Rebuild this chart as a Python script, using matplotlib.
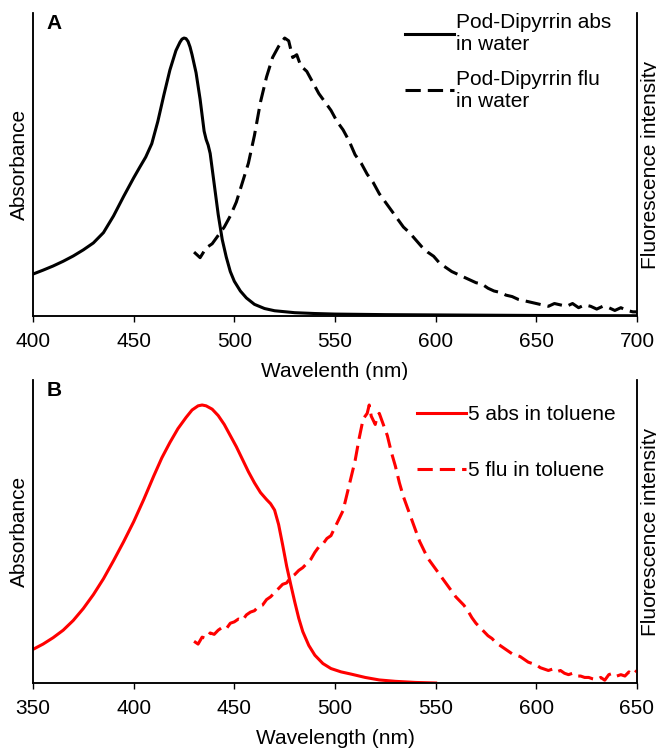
import matplotlib
matplotlib.use("Agg")
import matplotlib.pyplot as plt

plt.rcParams["font.family"] = ["Liberation Sans", "DejaVu Sans"]
plt.rcParams["font.size"] = 15

# Panel A: Pod-Dipyrrin in water (normalised)
abs_a_wl = [400, 405, 410, 415, 420, 425, 430, 435, 440, 445, 450, 453, 456, 459,
            462, 465, 468, 471, 473, 474, 475, 476, 477, 478, 479, 481, 483, 485,
            486, 487, 488, 490, 492, 494, 496, 498, 500, 503, 506, 510, 515, 520,
            530, 540, 550, 575, 600, 650, 700]
abs_a = [0.151, 0.165, 0.18, 0.197, 0.216, 0.238, 0.263, 0.30, 0.36, 0.43, 0.497,
         0.535, 0.572, 0.62, 0.70, 0.795, 0.885, 0.955, 0.985, 0.996, 1.0, 0.998,
         0.988, 0.968, 0.94, 0.875, 0.78, 0.665, 0.635, 0.615, 0.585, 0.475,
         0.365, 0.275, 0.212, 0.16, 0.125, 0.09, 0.065, 0.042, 0.027, 0.019,
         0.012, 0.009, 0.007, 0.005, 0.004, 0.002, 0.001]

flu_a_wl = [480, 483, 486, 489, 492, 495, 498, 501, 504, 507, 510, 513, 516, 519,
            522, 525, 527, 529, 531, 533, 536, 539, 542, 545, 548, 551, 554, 557,
            560, 563, 566, 569, 572, 575, 578, 581, 584, 587, 590, 593, 596, 599,
            602, 605, 608, 611, 614, 617, 620, 623, 626, 629, 632, 635, 638, 641,
            644, 647, 650, 653, 656, 659, 662, 665, 668, 671, 674, 677, 680, 683,
            686, 689, 692, 695, 698, 700]
flu_a = [0.23, 0.21, 0.245, 0.26, 0.29, 0.32, 0.36, 0.41, 0.48, 0.55, 0.65, 0.77,
         0.86, 0.93, 0.97, 1.0, 0.99, 0.93, 0.94, 0.90, 0.88, 0.84, 0.80, 0.77,
         0.74, 0.70, 0.67, 0.63, 0.58, 0.55, 0.51, 0.48, 0.44, 0.41, 0.38, 0.35,
         0.32, 0.30, 0.275, 0.25, 0.23, 0.215, 0.19, 0.175, 0.16, 0.15, 0.14,
         0.13, 0.12, 0.115, 0.10, 0.09, 0.085, 0.075, 0.07, 0.06, 0.055, 0.05,
         0.045, 0.04, 0.035, 0.045, 0.04, 0.035, 0.045, 0.03, 0.04, 0.035, 0.025,
         0.035, 0.03, 0.02, 0.03, 0.02, 0.015, 0.015]

# Panel B: compound 5 in toluene
abs_b_wl = [350, 355, 360, 365, 370, 375, 380, 385, 390, 395, 400, 405, 410, 414,
            418, 422, 426, 429, 432, 434, 436, 439, 442, 445, 448, 451, 454, 457,
            460, 463, 466, 468, 470, 472, 474, 476, 478, 480, 482, 484, 487, 490,
            494, 498, 503, 508, 515, 522, 530, 540, 550]
abs_b = [0.121, 0.14, 0.163, 0.19, 0.225, 0.268, 0.318, 0.375, 0.44, 0.508, 0.58,
         0.66, 0.745, 0.81, 0.865, 0.915, 0.955, 0.982, 0.997, 1.0, 0.997, 0.985,
         0.962, 0.93, 0.89, 0.85, 0.805, 0.76, 0.72, 0.685, 0.66, 0.645, 0.622,
         0.57, 0.497, 0.42, 0.355, 0.292, 0.233, 0.185, 0.135, 0.10, 0.07, 0.052,
         0.04, 0.032, 0.02, 0.011, 0.006, 0.002, 0.0]

flu_b_wl = [430, 432, 434, 436, 438, 440, 442, 444, 446, 448, 450, 452, 454, 456,
            458, 460, 462, 464, 466, 468, 470, 472, 474, 476, 478, 480, 482, 484,
            486, 488, 490, 492, 494, 496, 498, 500, 502, 504, 506, 508, 510, 512,
            514, 516, 517, 518, 520, 521, 522, 524, 526, 528, 530, 532, 534, 536,
            538, 540, 542, 544, 546, 548, 550, 552, 554, 556, 558, 560, 562, 564,
            566, 568, 570, 572, 574, 576, 578, 580, 582, 584, 586, 588, 590, 592,
            594, 596, 598, 600, 602, 604, 606, 608, 610, 612, 614, 616, 618, 620,
            622, 624, 626, 628, 630, 632, 634, 636, 638, 640, 642, 644, 646, 648,
            650]
flu_b = [0.15, 0.14, 0.165, 0.16, 0.18, 0.175, 0.19, 0.20, 0.195, 0.215, 0.22,
         0.23, 0.225, 0.245, 0.255, 0.26, 0.275, 0.28, 0.30, 0.31, 0.325, 0.34,
         0.355, 0.36, 0.38, 0.39, 0.405, 0.415, 0.43, 0.445, 0.47, 0.49, 0.50,
         0.52, 0.53, 0.56, 0.59, 0.62, 0.68, 0.74, 0.80, 0.88, 0.95, 0.97, 1.0,
         0.96, 0.93, 0.96, 0.97, 0.93, 0.89, 0.83, 0.78, 0.72, 0.67, 0.63, 0.59,
         0.55, 0.51, 0.48, 0.45, 0.43, 0.41, 0.39, 0.37, 0.35, 0.33, 0.31, 0.295,
         0.28, 0.26, 0.235, 0.215, 0.20, 0.185, 0.17, 0.16, 0.145, 0.135, 0.125,
         0.115, 0.105, 0.10, 0.095, 0.085, 0.075, 0.07, 0.065, 0.055, 0.05, 0.045,
         0.05, 0.04, 0.045, 0.035, 0.03, 0.035, 0.025, 0.025, 0.02, 0.02, 0.015,
         0.012, 0.02, 0.01, 0.03, 0.035, 0.025, 0.03, 0.025, 0.04, 0.03, 0.045]

YMAX = 1.09
LW = 2.2
DASH = (5, 2.3)


def style_panel(ax, ax2, xlim, xticks, xlabel, letter):
    ax.set_xlim(*xlim)
    ax.set_ylim(0, YMAX)
    ax2.set_ylim(0, YMAX)
    ax.set_xticks(xticks)
    ax.tick_params(axis="x", direction="out", length=4.5, width=1, pad=7)
    ax.set_yticks([])
    ax2.set_yticks([])
    for a in (ax, ax2):
        a.spines["top"].set_visible(False)
        for s in ("left", "right", "bottom"):
            a.spines[s].set_linewidth(1.1)
    ax.set_xlabel(xlabel, labelpad=8)
    ax.set_ylabel("Absorbance", labelpad=3)
    ax2.set_ylabel("Fluorescence intensity", labelpad=3)
    ax.text(0.023, 0.965, letter, transform=ax.transAxes, fontsize=15,
            fontweight="bold", va="center", ha="left")


fig = plt.figure(figsize=(6.56, 7.48), dpi=100)
ax_a = fig.add_axes([0.0503, 0.5775, 0.9207, 0.4051])
ax_a2 = ax_a.twinx()
la, = ax_a.plot(abs_a_wl, abs_a, color="black", lw=LW,
                label="Pod-Dipyrrin abs\nin water")
lf, = ax_a2.plot(flu_a_wl, flu_a, color="black", lw=LW, ls="--", dashes=DASH,
                 label="Pod-Dipyrrin flu\nin water")
style_panel(ax_a, ax_a2, (400, 700), range(400, 701, 50), "Wavelenth (nm)", "A")
ax_a2.legend(handles=[la, lf], loc="upper left", bbox_to_anchor=(0.616, 1.0),
             frameon=False, borderpad=0, borderaxespad=0, handlelength=2.35,
             handletextpad=0.1, labelspacing=0.75, fontsize=15)

ax_b = fig.add_axes([0.0503, 0.0869, 0.9207, 0.4051])
ax_b2 = ax_b.twinx()
lb, = ax_b.plot(abs_b_wl, abs_b, color="#ff0000", lw=LW, label="5 abs in toluene")
lg, = ax_b2.plot(flu_b_wl, flu_b, color="#ff0000", lw=LW, ls="--", dashes=DASH,
                 label="5 flu in toluene")
style_panel(ax_b, ax_b2, (350, 650), range(350, 651, 50), "Wavelength (nm)", "B")
ax_b2.legend(handles=[lb, lg], loc="upper left", bbox_to_anchor=(0.636, 0.918),
             frameon=False, borderpad=0, borderaxespad=0, handlelength=2.35,
             handletextpad=0.1, labelspacing=1.8, fontsize=15)

fig.savefig("out.png", dpi=100)
